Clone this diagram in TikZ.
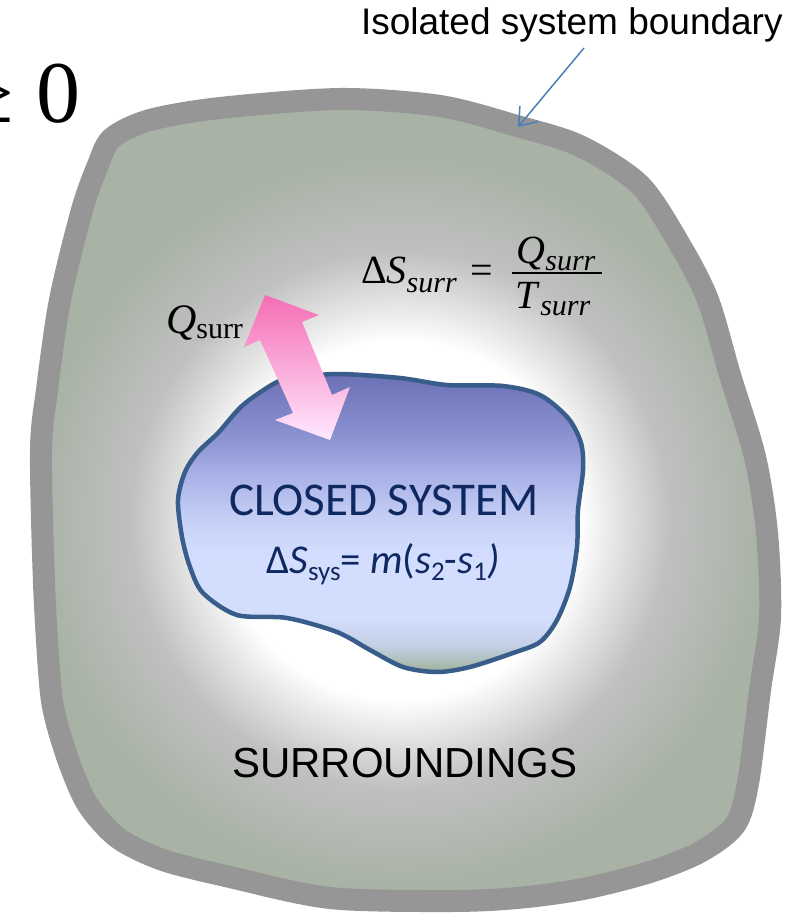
\documentclass[tikz,border=0pt]{standalone}
\usepackage{fontspec}
\setmainfont{Liberation Serif}
\newfontfamily\arialf{Liberation Sans}
\newfontfamily\calf{Carlito}
\usetikzlibrary{arrows.meta}

\definecolor{bandgray}{RGB}{150,150,150}
\definecolor{surrgreen}{RGB}{168,178,165}
\definecolor{surrgray}{RGB}{192,192,192}
\definecolor{surrlight}{RGB}{232,232,232}
\definecolor{blobline}{RGB}{56,93,138}
\definecolor{navy}{RGB}{16,40,96}
\definecolor{arrowblue}{RGB}{74,126,187}
\definecolor{pinktop}{RGB}{245,110,180}
\definecolor{pinkbot}{RGB}{255,232,255}
\definecolor{bgA}{RGB}{160,178,155}
\definecolor{bgB}{RGB}{195,208,230}
\definecolor{bgC}{RGB}{211,222,253}
\definecolor{bgD}{RGB}{211,222,255}
\definecolor{bgE}{RGB}{198,208,246}
\definecolor{bgF}{RGB}{165,173,228}
\definecolor{bgG}{RGB}{140,148,210}
\definecolor{bgH}{RGB}{108,112,182}

% 25bp corresponds to 800 units -> 1bp = 32 units
\pgfdeclareradialshading{surrshade}{\pgfpoint{0bp}{0bp}}{color(0bp)=(white); color(5.6bp)=(white); color(6.6bp)=(surrlight); color(8.4bp)=(surrgray); color(11.5bp)=(surrgreen); color(50bp)=(surrgreen)}
\pgfdeclareverticalshading{blobshade}{100bp}{color(0bp)=(bgA); color(25bp)=(bgA); color(29.5bp)=(bgB); color(34bp)=(bgC); color(44bp)=(bgD); color(50.6bp)=(bgE); color(59bp)=(bgF); color(64bp)=(bgG); color(75bp)=(bgH); color(100bp)=(bgH)}

\newcommand\lowtxt[2]{\raisebox{-#1}{#2}}

\tikzset{
  txt/.style={inner sep=0pt, outer sep=0pt},
  outerpath/.style={smooth cycle, tension=0.5},
}

\begin{document}
\begin{tikzpicture}[x=1pt, y=-1pt]
\useasboundingbox (0,0) rectangle (794,915);
\fill[white] (0,0) rectangle (794,915);

% surroundings fill
\begin{scope}
\clip plot[outerpath] coordinates {(112,138) (150,120) (220,108) (340,99) (440,106) (517,126) (580,146) (640,185) (680,245) (708,300) (730,375) (755,457) (767,533) (770,617) (760,690) (748,783) (735,825) (700,852) (650,872) (583,889) (517,898) (450,901) (330,898) (230,877) (163,860) (118,838) (88,805) (70,765) (56,720) (50,683) (44,583) (41,450) (47,390) (60,300) (82,210) (98,165)};
\shade[shading=surrshade] (400,520) circle (800);
\end{scope}
% isolated boundary
\draw[bandgray, line width=22pt, line join=round] plot[outerpath] coordinates {(112,138) (150,120) (220,108) (340,99) (440,106) (517,126) (580,146) (640,185) (680,245) (708,300) (730,375) (755,457) (767,533) (770,617) (760,690) (748,783) (735,825) (700,852) (650,872) (583,889) (517,898) (450,901) (330,898) (230,877) (163,860) (118,838) (88,805) (70,765) (56,720) (50,683) (44,583) (41,450) (47,390) (60,300) (82,210) (98,165)};

% closed system
\shadedraw[shading=blobshade, draw=blobline, line width=4.5pt] plot[smooth cycle, tension=0.5] coordinates {(277,382) (243,405) (218,433) (198,452) (185,472) (178,500) (182,537) (190,567) (203,593) (237,615) (287,618) (337,632) (370,650) (403,667) (437,672) (470,667) (513,653) (540,642) (557,620) (570,587) (577,547) (578,510) (583,470) (581,443) (568,418) (540,395) (503,386) (447,385) (400,378) (340,374) (300,377)};

% heat arrow
\shade[top color=pinktop, bottom color=pinkbot] (265,295) -- (319,315) -- (302,322) -- (332,395) -- (350,387) -- (330,440) -- (275,420) -- (293,413) -- (260,340) -- (244,347) -- cycle;

% texts
\node[txt, anchor=base west] (iso) at (361,35) {\arialf\fontsize{37}{37}\selectfont Isolated system boundary};
\coordinate (bstart) at (584,48);
\coordinate (btip) at (518,127);
\draw[arrowblue, line width=1.5pt, -{Straight Barb[length=16pt, width=24pt, line width=1.5pt]}] (bstart) -- (btip);

\node[txt, anchor=base west] (geq) at (-34,123) {\fontsize{88}{88}\selectfont ≥ 0};

\node[txt, anchor=base west] (qsurr) at (166,333) {\fontsize{42}{42}\selectfont\textit{Q}\lowtxt{5pt}{\fontsize{30}{30}\selectfont surr}};

\node[txt, anchor=base west] (dsurr) at (361,283) {\fontsize{40}{40}\selectfont Δ\textit{S}\lowtxt{9pt}{\fontsize{30}{30}\selectfont\textit{surr}}\hspace{14pt}=};
\node[txt, anchor=base] (qnum) at (556,263) {\fontsize{40}{40}\selectfont\textit{Q}\lowtxt{7pt}{\fontsize{30}{30}\selectfont\textit{surr}}};
\node[txt, anchor=base] (tden) at (553,308) {\fontsize{40}{40}\selectfont\textit{T}\lowtxt{7pt}{\fontsize{30}{30}\selectfont\textit{surr}}};
\coordinate (barL) at (512,273);
\coordinate (barR) at (602,273);
\draw[line width=1.6pt] (barL) -- (barR);

\node[txt, anchor=base, text=navy] (closed) at (384,515) {\calf\fontsize{47}{47}\selectfont CLOSED SYSTEM};
\node[txt, anchor=base, text=navy] (dsys) at (383,573) {\calf\fontsize{41}{41}\selectfont Δ\textit{S}\lowtxt{7pt}{\fontsize{27}{27}\selectfont sys}= \textit{m}(\textit{s}\lowtxt{7pt}{\fontsize{27}{27}\selectfont 2}-\textit{s}\lowtxt{7pt}{\fontsize{27}{27}\selectfont 1}\textit{)}};

\node[txt, anchor=base] (surround) at (405,777) {\arialf\fontsize{42}{42}\selectfont SURROUNDINGS};
\end{tikzpicture}
\end{document}
